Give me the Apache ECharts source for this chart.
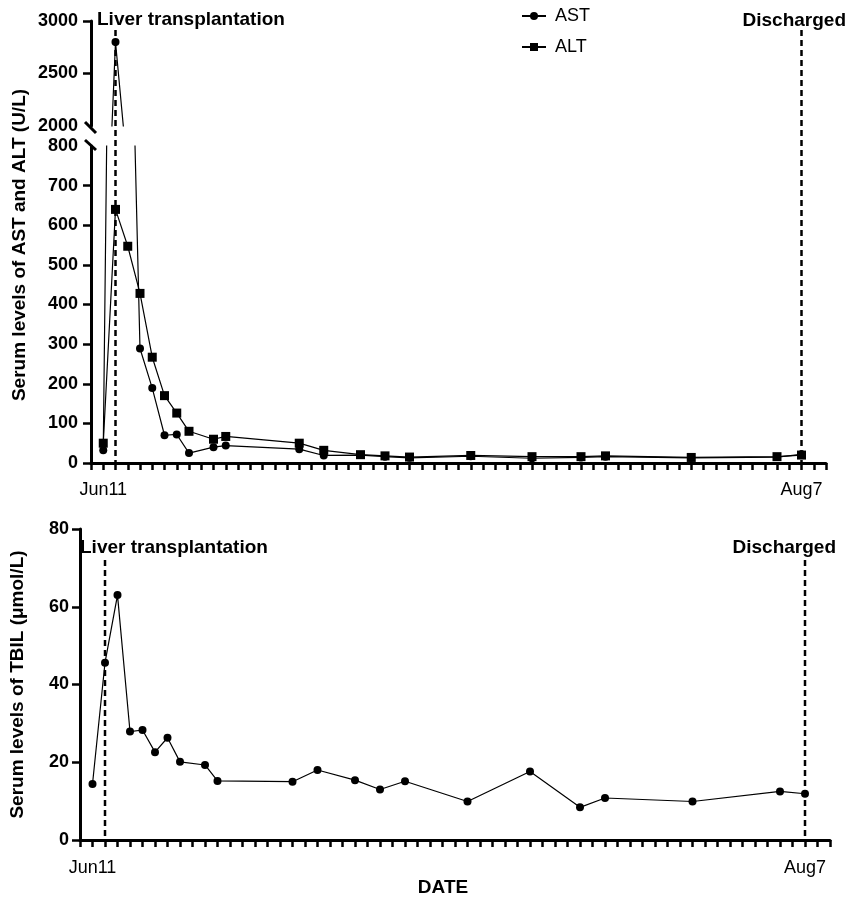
<!DOCTYPE html>
<html><head><meta charset="utf-8">
<script src="https://cdn.jsdelivr.net/npm/echarts@6/dist/echarts.min.js"></script>
<style>html,body{margin:0;padding:0;background:#fff}#c{width:846px;height:903px}</style>
</head><body><div id="c"></div>
<script>
// day index = days after Jun 10 (Jun11 = 1, Aug7 = 58)
const xTickDays = [1, 58];
const xTickLabels = ['Jun11', 'Aug7'];
const transplantDay = 2;
const dischargeDay = 58;

const astDays   = [1, 2, 4, 5, 6, 7, 8, 10, 11, 17, 19, 22, 24, 26, 31, 36, 40, 42, 49, 56, 58];
const astValues = [32, 2800, 289, 189, 70, 72, 25, 40, 44, 35, 19, 20, 16, 13, 17, 12, 14, 16, 13, 15, 22];

const altDays   = [1, 2, 3, 4, 5, 6, 7, 8, 10, 11, 17, 19, 22, 24, 26, 31, 36, 40, 42, 49, 56, 58];
const altValues = [50, 640, 547, 428, 267, 170, 126, 80, 60, 67, 50, 32, 21, 18, 15, 19, 16, 16, 18, 14, 16, 20];

const tbilDays   = [1, 2, 3, 4, 5, 6, 7, 8, 10, 11, 17, 19, 22, 24, 26, 31, 36, 40, 42, 49, 56, 58];
const tbilValues = [14.4, 45.6, 63, 27.9, 28.3, 22.6, 26.3, 20.1, 19.3, 15.2, 15.0, 18.0, 15.4, 13.0, 15.1, 9.9, 17.6, 8.4, 10.8, 9.9, 12.5, 11.9];

const upperYLabels = [2000, 2500, 3000];
const upperYTicks  = [2500, 3000];
const lowerYLabels = [0, 100, 200, 300, 400, 500, 600, 700, 800];
const lowerYTicks  = [0, 100, 200, 300, 400, 500, 600, 700];

const FONT = '"Liberation Sans", Arial, Helvetica, sans-serif';
function pairs(d, v) { return d.map((x, i) => [x, v[i]]); }

const chart = echarts.init(document.getElementById('c'));

function xAxisCfg(gridIndex, margin, extra) {
  return Object.assign({
    gridIndex, type: 'value', min: 0, max: 60, interval: 1,
    splitLine: { show: false },
    axisLine: { show: true, onZero: false, lineStyle: { color: '#000', width: 3 } },
    axisTick: { show: true, length: 7, lineStyle: { color: '#000', width: 2.5 } },
    axisLabel: {
      color: '#000', fontFamily: FONT, fontSize: 18, margin,
      formatter: v => { const k = xTickDays.indexOf(v); return k >= 0 ? xTickLabels[k] : ''; }
    }
  }, extra || {});
}
function yAxisCfg(gridIndex, min, max, interval, labels, ticks, margin, extra) {
  return Object.assign({
    gridIndex, type: 'value', min, max, interval,
    splitLine: { show: false },
    axisLine: { show: true, onZero: false, lineStyle: { color: '#000', width: 3 } },
    axisTick: { show: true, length: 8, customValues: ticks, lineStyle: { color: '#000', width: 2.5 } },
    axisLabel: { color: '#000', fontFamily: FONT, fontSize: 18, fontWeight: 'bold', margin,
      customValues: labels, formatter: v => String(v) }
  }, extra || {});
}

const lineStyle = { color: '#000', width: 1.2 };
const itemStyle = { color: '#000' };

chart.setOption({
  animation: false,
  backgroundColor: '#fff',
  legend: {
    orient: 'vertical', left: 516, top: 2, itemGap: 13,
    itemWidth: 24, itemHeight: 10,
    textStyle: { color: '#000', fontFamily: FONT, fontSize: 18, padding: [0, 0, 0, 4] },
    data: ['AST', 'ALT']
  },
  grid: [
    { left: 91, top: 21, width: 735, height: 105 },
    { left: 91, top: 146, width: 735, height: 317 },
    { left: 73, top: 529, width: 757, height: 311 }
  ],
  xAxis: [
    xAxisCfg(0, 18, { show: false }),
    xAxisCfg(1, 18),
    xAxisCfg(2, 19, {
      name: 'DATE', nameLocation: 'middle', nameGap: 38,
      nameTextStyle: { color: '#000', fontFamily: FONT, fontSize: 19, fontWeight: 'bold', padding: [0, 24, 0, 0] }
    })
  ],
  yAxis: [
    yAxisCfg(0, 2000, 3000, 500, upperYLabels, upperYTicks, 13),
    yAxisCfg(1, 0, 800, 100, lowerYLabels, lowerYTicks, 13),
    yAxisCfg(2, 0, 80, 20, null, null, 11, {
      name: 'Serum levels of TBIL (μmol/L)', nameLocation: 'middle', nameGap: 53,
      nameTextStyle: { color: '#000', fontFamily: FONT, fontSize: 19, fontWeight: 'bold' }
    })
  ],
  series: [
    { name: 'AST', type: 'line', xAxisIndex: 0, yAxisIndex: 0, clip: true, data: pairs(astDays, astValues),
      symbol: 'circle', symbolSize: 8, lineStyle, itemStyle },
    { name: 'AST', type: 'line', xAxisIndex: 1, yAxisIndex: 1, clip: true, data: pairs(astDays, astValues),
      symbol: 'circle', symbolSize: 8, lineStyle, itemStyle },
    { name: 'ALT', type: 'line', xAxisIndex: 0, yAxisIndex: 0, clip: true, data: pairs(altDays, altValues),
      symbol: 'rect', symbolSize: 9, lineStyle, itemStyle },
    { name: 'ALT', type: 'line', xAxisIndex: 1, yAxisIndex: 1, clip: true, data: pairs(altDays, altValues),
      symbol: 'rect', symbolSize: 9, lineStyle, itemStyle },
    { name: 'TBIL', type: 'line', xAxisIndex: 2, yAxisIndex: 2, clip: true, data: pairs(tbilDays, tbilValues),
      symbol: 'circle', symbolSize: 8, lineStyle, itemStyle }
  ]
});

// annotations positioned through the axes
const px = (xi, v) => chart.convertToPixel({ xAxisIndex: xi }, v);
const py = (yi, v) => chart.convertToPixel({ yAxisIndex: yi }, v);
const dash = { stroke: '#000', lineWidth: 2.5, lineDash: [6, 4] };
const txt = (text, x, y, align, extra) => Object.assign({
  type: 'text', x, y, silent: true,
  style: { text, fill: '#000', font: 'bold 19px ' + FONT, textAlign: align, textVerticalAlign: 'middle' }
}, extra || {});

const tTop = px(1, transplantDay), dTop = px(1, dischargeDay);
const tBot = px(2, transplantDay), dBot = px(2, dischargeDay);
const y0Top = py(1, 0), y0Bot = py(2, 0);
const axTop = px(1, 0);
const brkU = py(0, 2000), brkL = py(1, 800);

chart.setOption({
  graphic: [
    { type: 'line', shape: { x1: tTop, y1: 30, x2: tTop, y2: y0Top }, style: dash, silent: true },
    { type: 'line', shape: { x1: dTop, y1: 30, x2: dTop, y2: y0Top }, style: dash, silent: true },
    { type: 'line', shape: { x1: tBot, y1: 560, x2: tBot, y2: y0Bot }, style: dash, silent: true },
    { type: 'line', shape: { x1: dBot, y1: 560, x2: dBot, y2: y0Bot }, style: dash, silent: true },
    // axis break marks
    { type: 'rect', shape: { x: axTop - 3, y: brkU - 1, width: 6, height: brkL - brkU + 2 }, style: { fill: '#fff' }, silent: true },
    { type: 'line', shape: { x1: axTop - 6, y1: brkU - 4, x2: axTop + 5, y2: brkU + 7 }, style: { stroke: '#000', lineWidth: 3 }, silent: true },
    { type: 'line', shape: { x1: axTop - 6, y1: brkL - 6, x2: axTop + 5, y2: brkL + 4 }, style: { stroke: '#000', lineWidth: 3 }, silent: true },
    txt('Liver transplantation', 97, 20, 'left'),
    txt('Discharged', 846, 21, 'right'),
    txt('Liver transplantation', 80, 548, 'left'),
    txt('Discharged', 836, 548, 'right'),
    txt('Serum levels of AST and ALT (U/L)', 20, 245, 'center', { rotation: Math.PI / 2 })
  ]
});
</script>
</body></html>
